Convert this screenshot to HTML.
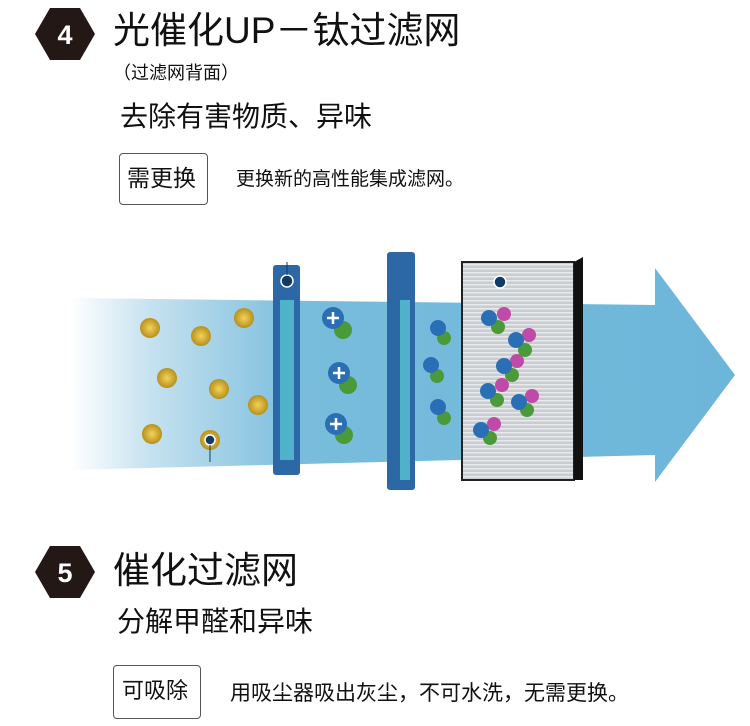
<!DOCTYPE html>
<html><head><meta charset="utf-8"><style>
body{margin:0;width:750px;height:726px;background:#fff;overflow:hidden;position:relative;font-family:"Liberation Sans","Noto Sans CJK SC",sans-serif;color:#111}
.t{position:absolute;white-space:nowrap;line-height:1}
.box{position:absolute;border:1.5px solid #555;border-radius:4px;background:#fff}
</style></head><body>
<svg width="750" height="726" style="position:absolute;left:0;top:0">
<defs>
<linearGradient id="ag" x1="0" x2="1" y1="0" y2="0">
<stop offset="0" stop-color="#fff"/><stop offset="0.12" stop-color="#c6e2f0"/><stop offset="0.35" stop-color="#79bcdc"/><stop offset="1" stop-color="#6cb6da"/></linearGradient>
<radialGradient id="yb"><stop offset="0" stop-color="#f2d35a"/><stop offset="1" stop-color="#b8901c"/></radialGradient>
<pattern id="hp" width="4" height="4" patternUnits="userSpaceOnUse"><rect width="4" height="4" fill="#c9ccd0"/><rect width="4" height="1.5" fill="#e8eaec"/></pattern>
</defs>
<polygon points="35,34 50,8 80,8 95,34 80,60 50,60" fill="#231815"/>
<text x="65" y="44" text-anchor="middle" font-size="27" font-weight="bold" fill="#fff" font-family="Liberation Sans">4</text>
<polygon points="35,572 50,546 80,546 95,572 80,598 50,598" fill="#231815"/>
<text x="65" y="582" text-anchor="middle" font-size="27" font-weight="bold" fill="#fff" font-family="Liberation Sans">5</text>
<polygon points="70,298 655,305 655,268 735,375 655,482 655,455 70,470" fill="url(#ag)"/>
<g fill="url(#yb)">
<circle cx="150" cy="328" r="10"/><circle cx="201" cy="336" r="10"/><circle cx="244" cy="318" r="10"/>
<circle cx="167" cy="378" r="10"/><circle cx="219" cy="389" r="10"/><circle cx="258" cy="405" r="10"/>
<circle cx="152" cy="434" r="10"/><circle cx="210" cy="440" r="10"/>
</g>
<circle cx="210" cy="440" r="5" fill="#123a66" stroke="#fff" stroke-width="1.5"/><line x1="210" y1="445" x2="210" y2="462" stroke="#123a66"/>
<rect x="273" y="265" width="27" height="210" rx="3" fill="#2d68a6"/>
<rect x="280" y="300" width="14" height="160" fill="#5fd0dc" opacity="0.7"/>
<circle cx="287" cy="281" r="6" fill="#123a66" stroke="#fff" stroke-width="1.5"/><line x1="287" y1="262" x2="287" y2="275" stroke="#123a66"/>
<rect x="387" y="252" width="28" height="238" rx="3" fill="#2d68a6"/>
<rect x="400" y="300" width="10" height="180" fill="#5fd0dc" opacity="0.7"/>
<rect x="462" y="262" width="112" height="218" fill="url(#hp)" stroke="#222" stroke-width="2"/>
<polygon points="574,262 583,257 583,480 574,480" fill="#111"/>
<circle cx="500" cy="282" r="6" fill="#123a66" stroke="#fff" stroke-width="1.5"/>
<g>
<circle cx="343" cy="330" r="9" fill="#4a9a3a"/><circle cx="333" cy="318" r="11" fill="#2a6fb6"/>
<circle cx="348" cy="385" r="9" fill="#4a9a3a"/><circle cx="339" cy="373" r="11" fill="#2a6fb6"/>
<circle cx="344" cy="435" r="9" fill="#4a9a3a"/><circle cx="336" cy="424" r="11" fill="#2a6fb6"/>
<circle cx="444" cy="338" r="7" fill="#4a9a3a"/><circle cx="438" cy="328" r="8" fill="#2a6fb6"/>
<circle cx="437" cy="376" r="7" fill="#4a9a3a"/><circle cx="431" cy="365" r="8" fill="#2a6fb6"/>
<circle cx="444" cy="418" r="7" fill="#4a9a3a"/><circle cx="438" cy="407" r="8" fill="#2a6fb6"/>
</g>
<g stroke="#fff" stroke-width="2.5">
<path d="M327 318h12M333 312v12M333 373h12M339 367v12M330 424h12M336 418v12"/>
</g>
<g>
<circle cx="498" cy="327" r="7" fill="#4a9a3a"/><circle cx="504" cy="314" r="7" fill="#c04aa8"/><circle cx="489" cy="318" r="8" fill="#2a6fb6"/>
<circle cx="525" cy="350" r="7" fill="#4a9a3a"/><circle cx="529" cy="335" r="7" fill="#c04aa8"/><circle cx="516" cy="340" r="8" fill="#2a6fb6"/>
<circle cx="512" cy="375" r="7" fill="#4a9a3a"/><circle cx="517" cy="361" r="7" fill="#c04aa8"/><circle cx="504" cy="366" r="8" fill="#2a6fb6"/>
<circle cx="497" cy="400" r="7" fill="#4a9a3a"/><circle cx="502" cy="385" r="7" fill="#c04aa8"/><circle cx="488" cy="391" r="8" fill="#2a6fb6"/>
<circle cx="527" cy="410" r="7" fill="#4a9a3a"/><circle cx="532" cy="396" r="7" fill="#c04aa8"/><circle cx="519" cy="402" r="8" fill="#2a6fb6"/>
<circle cx="490" cy="438" r="7" fill="#4a9a3a"/><circle cx="494" cy="424" r="7" fill="#c04aa8"/><circle cx="481" cy="430" r="8" fill="#2a6fb6"/>
</g>
</svg>
<div class="t" style="left:113px;top:12px;font-size:37px">光催化UP－钛过滤网</div>
<div class="t" style="left:113px;top:64px;font-size:18px">（过滤网背面）</div>
<div class="t" style="left:120px;top:103px;font-size:28px">去除有害物质、异味</div>
<div class="box" style="left:119px;top:153px;width:87px;height:50px"></div>
<div class="t" style="left:127px;top:167px;font-size:23px">需更换</div>
<div class="t" style="left:236px;top:170px;font-size:19px">更换新的高性能集成滤网。</div>
<div class="t" style="left:113px;top:552px;font-size:37px">催化过滤网</div>
<div class="t" style="left:117px;top:608px;font-size:28px">分解甲醛和异味</div>
<div class="box" style="left:113px;top:665px;width:86px;height:52px"></div>
<div class="t" style="left:122px;top:680px;font-size:22px">可吸除</div>
<div class="t" style="left:230px;top:683px;font-size:21px">用吸尘器吸出灰尘，不可水洗，无需更换。</div>
</body></html>
